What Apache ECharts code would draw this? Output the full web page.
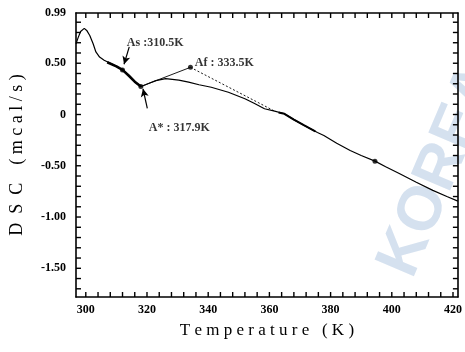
<!DOCTYPE html>
<html><head><meta charset="utf-8">
<script src="https://cdn.jsdelivr.net/npm/echarts@6/dist/echarts.min.js"></script>
<style>html,body{margin:0;padding:0;background:#fff}#c{width:465px;height:352px}</style>
</head><body><div id="c"></div>
<script>
// DSC curve: temperature (K), heat flow (mcal/s)
const curveT = [296.8,297.5,298.3,299.5,300.3,301.3,302.4,303.3,304.5,306,308,310,312,314,316,318,319.5,320.7,322.9,326.1,330.4,333.6,337,341,346.6,352,355,358.4,361.7,364.9,368,371.4,375.7,377.8,382,386.4,390,394.5,398,402.6,408,413.4,418,421.6];
const curveV = [0.69,0.75,0.81,0.84,0.82,0.77,0.69,0.61,0.56,0.53,0.50,0.47,0.435,0.38,0.32,0.273,0.29,0.305,0.33,0.35,0.335,0.315,0.29,0.266,0.217,0.153,0.11,0.056,0.033,0.007,-0.05,-0.107,-0.175,-0.205,-0.28,-0.351,-0.40,-0.455,-0.51,-0.578,-0.66,-0.74,-0.80,-0.845];
// thickened trace segments
const thickT = [307,310,312,314,316,318];
const thickV = [0.51,0.47,0.435,0.38,0.32,0.273];
const thick2T = [363,364.9,368,371.4,375];
const thick2V = [0.02,0.007,-0.05,-0.107,-0.165];
// construction lines
const baseT = [318,334.2];
const baseV = [0.273,0.46];
const dotT = [334.2,361.7];
const dotV = [0.46,0.033];
// marked points
const ptT = [312,318,334.2,394.5];
const ptV = [0.435,0.273,0.46,-0.455];
const ptLabels = ['As :310.5K','A* : 317.9K','Af : 333.5K'];
const labelT = [313.4,320.6,335.6];
const labelV = [0.70,-0.13,0.505];
// arrows
const arrowFromT = [314.2,320.1];
const arrowFromV = [0.66,0.06];
const arrowToT = [312.5,318.7];
const arrowToV = [0.49,0.25];
// axes
const xTicks = [300,320,340,360,380,400,420];
const xMinor = [300,304,308,312,316,320,324,328,332,336,340,344,348,352,356,360,364,368,372,376,380,384,388,392,396,400,404,408,412,416,420];
const yTicks = [-1.5,-1.0,-0.5,0,0.5,0.99];
const yMinor = [-1.7,-1.6,-1.5,-1.4,-1.3,-1.2,-1.1,-1.0,-0.9,-0.8,-0.7,-0.6,-0.5,-0.4,-0.3,-0.2,-0.1,0,0.1,0.2,0.3,0.4,0.5,0.6,0.7,0.8,0.9];
const xMin = 296.8, xMax = 421.6, yMin = -1.78, yMax = 0.99;

const zip = (a,b)=>a.map((v,i)=>[v,b[i]]);
const serif = 'Liberation Serif';
const fmtY = v => Math.abs(v) < 1e-9 ? '0' : (Math.abs(v-0.99)<1e-9 ? '0.99' : v.toFixed(2));
const TL = 5; // inner tick length
const tickStyle = {stroke:'#000', fill:null, lineWidth:1.4};

const chart = echarts.init(document.getElementById('c'));
const axisLine = {show:true, onZero:false, lineStyle:{color:'#000', width:1.6}};
chart.setOption({
  animation:false,
  backgroundColor:'#fff',
  grid:{left:76, right:3, top:13, bottom:55},
  graphic:[{
    type:'text', left:368, top:55, rotation: 1.17, z:-10,
    style:{text:'KOREA', fill:'rgba(150,180,215,0.4)', font:'bold 62px "Liberation Sans"'}
  }],
  xAxis:[{
    type:'value', min:xMin, max:xMax, position:'bottom',
    name:'T e m p e r a t u r e   ( K )', nameLocation:'middle', nameGap:25,
    nameTextStyle:{fontFamily:serif, fontSize:17, color:'#000'},
    axisLine:axisLine, splitLine:{show:false}, axisTick:{show:false},
    axisLabel:{customValues:xTicks, fontFamily:serif, fontWeight:'bold', fontSize:12, color:'#000', margin:7}
  },{
    type:'value', min:xMin, max:xMax, position:'top',
    axisLine:axisLine, splitLine:{show:false}, axisTick:{show:false}, axisLabel:{show:false}
  }],
  yAxis:[{
    type:'value', min:yMin, max:yMax, position:'left',
    name:'D  S  C    ( m c a l / s )', nameLocation:'middle', nameGap:50, nameRotate:90,
    nameTextStyle:{fontFamily:serif, fontSize:18, color:'#000'},
    axisLine:axisLine, splitLine:{show:false}, axisTick:{show:false},
    axisLabel:{customValues:yTicks, formatter:fmtY, fontFamily:serif, fontWeight:'bold', fontSize:12, color:'#000', margin:10}
  },{
    type:'value', min:yMin, max:yMax, position:'right',
    axisLine:axisLine, splitLine:{show:false}, axisTick:{show:false}, axisLabel:{show:false}
  }],
  series:[
    {type:'line', data:zip(curveT,curveV), showSymbol:false, lineStyle:{color:'#000', width:1.2}},
    {type:'line', data:zip(thickT,thickV), showSymbol:false, lineStyle:{color:'#000', width:2.6}},
    {type:'line', data:zip(thick2T,thick2V), showSymbol:false, lineStyle:{color:'#000', width:2}},
    {type:'line', data:zip(baseT,baseV), showSymbol:false, lineStyle:{color:'#000', width:0.9}},
    {type:'line', data:zip(dotT,dotV), showSymbol:false, lineStyle:{color:'#000', width:0.9, type:[2,2]}},
    {type:'scatter', data:zip(ptT,ptV), symbol:'circle', symbolSize:5, itemStyle:{color:'#000'}},
    {type:'scatter', data:zip(labelT,labelV), symbolSize:0,
      label:{show:true, position:'right', distance:0, formatter:p=>ptLabels[p.dataIndex],
        fontFamily:serif, fontWeight:'bold', fontSize:12, color:'#000'}},
    {type:'line', data:[], markLine:{silent:true, symbol:['none','arrow'], symbolSize:[6,8],
      label:{show:false}, lineStyle:{color:'#000', width:1.2, type:'solid'},
      data: arrowFromT.map((t,i)=>[{coord:[t,arrowFromV[i]]},{coord:[arrowToT[i],arrowToV[i]]}])}},
    // inward ticks on bottom/top (temperature) through the axis scale
    {type:'custom', clip:false, silent:true, z:5, encode:{x:0, y:1},
      data:xMinor.map(v=>[v, yMin]),
      renderItem:(params, api)=>{
        const b = api.coord([api.value(0), yMin]);
        const t = api.coord([api.value(0), yMax]);
        return {type:'group', children:[
          {type:'line', shape:{x1:b[0], y1:b[1], x2:b[0], y2:b[1]-TL}, style:tickStyle},
          {type:'line', shape:{x1:t[0], y1:t[1], x2:t[0], y2:t[1]+TL}, style:tickStyle}
        ]};
      }},
    // inward ticks on left/right (DSC) through the axis scale
    {type:'custom', clip:false, silent:true, z:5, encode:{x:0, y:1},
      data:yMinor.map(v=>[xMin, v]),
      renderItem:(params, api)=>{
        const l = api.coord([xMin, api.value(1)]);
        const r = api.coord([xMax, api.value(1)]);
        return {type:'group', children:[
          {type:'line', shape:{x1:l[0], y1:l[1], x2:l[0]+TL, y2:l[1]}, style:tickStyle},
          {type:'line', shape:{x1:r[0], y1:r[1], x2:r[0]-TL, y2:r[1]}, style:tickStyle}
        ]};
      }}
  ]
});
</script></body></html>
